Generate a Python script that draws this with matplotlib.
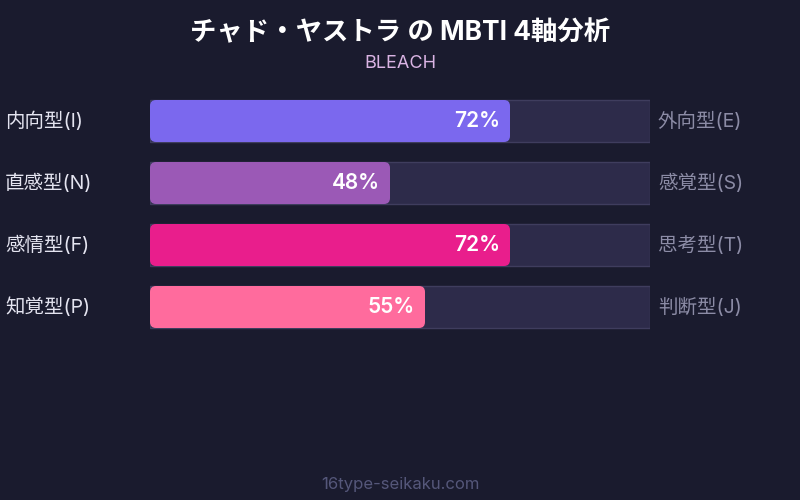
import matplotlib
matplotlib.use('Agg')
import matplotlib.pyplot as plt
from matplotlib.patches import FancyBboxPatch, Rectangle

plt.rcParams['font.family'] = ['Inter', 'Noto Sans CJK JP', 'DejaVu Sans']

# data
left_labels = ['内向型(I)', '直感型(N)', '感情型(F)', '知覚型(P)']
right_labels = ['外向型(E)', '感覚型(S)', '思考型(T)', '判断型(J)']
values = [72, 48, 72, 55]
colors = ['#7b68ee', '#9b59b6', '#e91e8c', '#ff6b9d']
title = 'チャド・ヤストラ の MBTI 4軸分析'
subtitle = 'BLEACH'
footer = '16type-seikaku.com'

bg = '#1a1b2e'
W, H = 800, 500

fig = plt.figure(figsize=(8, 5), dpi=100, facecolor=bg)

# bar area: x 150..650 px, rows 62 px apart starting at y=90 px
ax_left, ax_right = 150, 650
ax_top, row_h = 90, 62
n = len(values)
ax = fig.add_axes([ax_left / W, 1 - (ax_top + n * row_h) / H,
                   (ax_right - ax_left) / W, n * row_h / H])
ax.set_facecolor(bg)
ax.set_xlim(0, 100)
ax.set_ylim(n - 0.5, -0.5)
ax.axis('off')

px_x = 100 / (ax_right - ax_left)   # data units per pixel (x)
px_y = 1 / row_h                    # data units per pixel (y)
bar_h = 42 * px_y
radius = 6 * px_x

for i, (v, c) in enumerate(zip(values, colors)):
    ax.add_patch(Rectangle((0, i - bar_h / 2), 100, bar_h, facecolor='#2d2b4a',
                           edgecolor='#3f3d5e', linewidth=1, zorder=1))
    ax.add_patch(FancyBboxPatch((0, i - bar_h / 2), v, bar_h,
                                boxstyle=f'round,pad=0,rounding_size={radius}',
                                mutation_aspect=px_y / px_x,
                                facecolor=c, edgecolor='none', zorder=2))
    ax.text(v - 10 * px_x, i, f'{v}%', ha='right', va='center', color='white',
            fontsize=15, fontweight='semibold', zorder=3)
    ax.text(-145 * px_x, i, left_labels[i], ha='left', va='center',
            color='#e4e4f0', fontsize=14)
    ax.text(100 + 8 * px_x, i, right_labels[i], ha='left', va='center',
            color='#8c8ca6', fontsize=14)

fig.text(0.5, 1 - 33 / H, title, ha='center', va='center', color='white',
         fontsize=19, fontweight='bold')
fig.text(0.5, 1 - 64 / H, subtitle, ha='center', va='center', color='#dab4e4',
         fontsize=13)
fig.text(0.5, 1 - 484 / H, footer, ha='center', va='center', color='#55577a',
         fontsize=12)

fig.savefig('out.png', dpi=100, facecolor=bg)
